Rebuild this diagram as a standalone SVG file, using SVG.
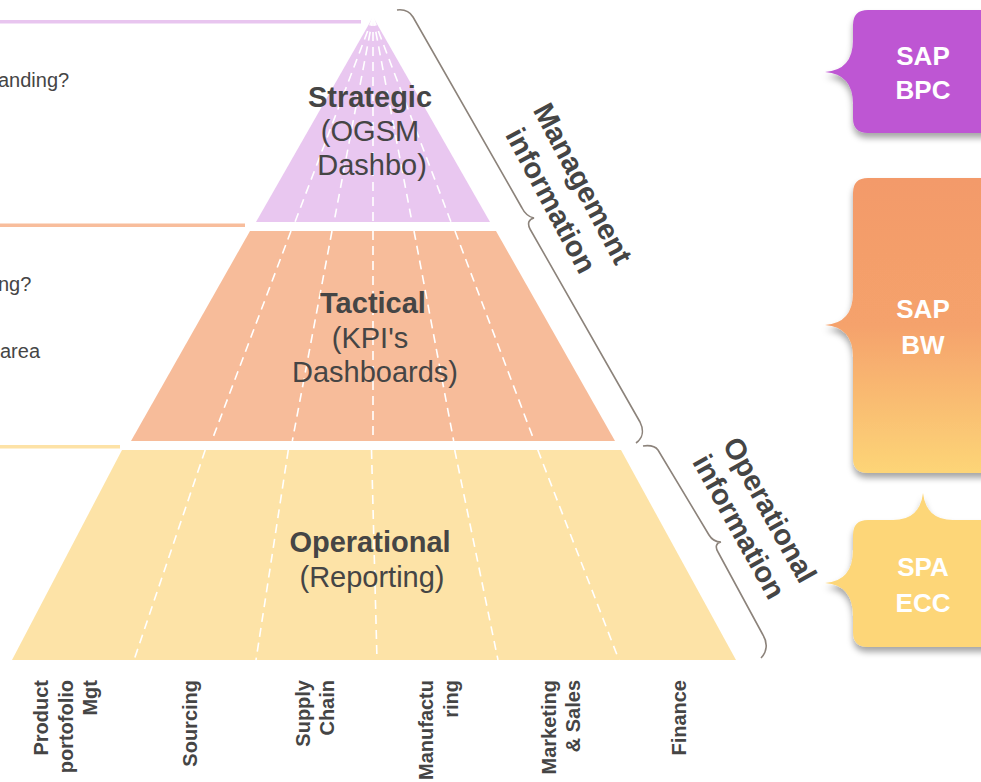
<svg xmlns="http://www.w3.org/2000/svg" width="981" height="782" viewBox="0 0 981 782">
<defs>
<style>
.lbl{font-family:"Liberation Sans",Arial,sans-serif;fill:#454545}
.big{font-size:29px;text-anchor:middle}
.b{font-weight:bold}
.side{font-size:20px}
.col{font-size:20px;font-weight:bold;text-anchor:end}
.dash{stroke:#ffffff;stroke-width:1.6;stroke-dasharray:9 6;fill:none}
.brace{fill:none;stroke:#8c837b;stroke-width:1.6}
.call{font-family:"Liberation Sans",Arial,sans-serif;font-size:26px;font-weight:bold;fill:#ffffff;text-anchor:middle}
</style>
<filter id="sh" x="-20%" y="-20%" width="140%" height="150%">
<feDropShadow dx="0" dy="5" stdDeviation="3" flood-color="#000" flood-opacity="0.35"/>
</filter>
<linearGradient id="gBW" x1="0" y1="0" x2="0" y2="1">
<stop offset="0" stop-color="#F39A6A"/>
<stop offset="0.5" stop-color="#F5A26C"/>
<stop offset="1" stop-color="#FDD577"/>
</linearGradient>
</defs>

<g id="left-lines">
<rect x="0" y="20" width="361" height="3.5" fill="#E8C5EF"/>
<rect x="0" y="223.5" width="245" height="3.5" fill="#F8BD9C"/>
<rect x="0" y="445" width="120" height="3.5" fill="#FDE2A6"/>
</g>

<g id="left-text">
<text class="lbl side" x="-2" y="87">anding?</text>
<text class="lbl side" x="-2" y="291">ng?</text>
<text class="lbl side" x="0" y="358">area</text>
</g>

<g id="strategic">
<polygon points="373,17 490,222 256,222" fill="#E9C7F0"/>
<line class="dash" x1="373" y1="17" x2="295" y2="222"/>
<line class="dash" x1="373" y1="17" x2="334" y2="222"/>
<line class="dash" x1="373" y1="17" x2="373" y2="222"/>
<line class="dash" x1="373" y1="17" x2="412" y2="222"/>
<line class="dash" x1="373" y1="17" x2="451" y2="222"/>
<text class="lbl big b" x="370" y="107">Strategic</text>
<text class="lbl big" x="370" y="141">(OGSM</text>
<text class="lbl big" x="372" y="175">Dashbo)</text>
</g>

<g id="tactical">
<polygon points="250,231 496,231 615,441 131,441" fill="#F7BC9A"/>
<line class="dash" x1="291" y1="231" x2="211.7" y2="441"/>
<line class="dash" x1="332" y1="231" x2="292.3" y2="441"/>
<line class="dash" x1="373" y1="231" x2="373" y2="441"/>
<line class="dash" x1="414" y1="231" x2="453.7" y2="441"/>
<line class="dash" x1="455" y1="231" x2="534.3" y2="441"/>
<text class="lbl big b" x="373" y="313">Tactical</text>
<text class="lbl big" x="370" y="348">(KPI's</text>
<text class="lbl big" x="375" y="382">Dashboards)</text>
</g>

<g id="operational">
<polygon points="122,450 621,450 736,660 12,660" fill="#FDE3A7"/>
<line class="dash" x1="205.2" y1="450" x2="134" y2="660"/>
<line class="dash" x1="288.3" y1="450" x2="256" y2="660"/>
<line class="dash" x1="371.5" y1="450" x2="377" y2="660"/>
<line class="dash" x1="454.7" y1="450" x2="498" y2="660"/>
<line class="dash" x1="537.8" y1="450" x2="619" y2="660"/>
<text class="lbl big b" x="370" y="552">Operational</text>
<text class="lbl big" x="372" y="587">(Reporting)</text>
</g>

<g id="columns">
<text class="lbl col" transform="translate(48,680) rotate(-90)">Product</text>
<text class="lbl col" transform="translate(73,680) rotate(-90)">portofolio</text>
<text class="lbl col" transform="translate(97,680) rotate(-90)">Mgt</text>
<text class="lbl col" transform="translate(197,680) rotate(-90)">Sourcing</text>
<text class="lbl col" transform="translate(310,680) rotate(-90)">Supply</text>
<text class="lbl col" transform="translate(334,680) rotate(-90)">Chain</text>
<text class="lbl col" transform="translate(433,680) rotate(-90)">Manufactu</text>
<text class="lbl col" transform="translate(458,680) rotate(-90)">ring</text>
<text class="lbl col" transform="translate(556,680) rotate(-90)">Marketing</text>
<text class="lbl col" transform="translate(580,680) rotate(-90)">&amp; Sales</text>
<text class="lbl col" transform="translate(686,680) rotate(-90)">Finance</text>
</g>

<g id="connectors">
<path class="brace" d="M397,10 C405,9 410,12 413,17 L522,208 C525,214 529,217 534,218 C529,219 527,223 530,229 L640,422 C644,430 643,438 636,443"/>
<path class="brace" d="M643,446 C650,445 655,446 658,450 L709,535 C712,540 716,542 721,542 C716,543 715,547 718,552 L763,635 C768,643 767,652 761,658"/>
</g>

<g id="management-info">
<g transform="translate(567,192) rotate(62)">
<text class="lbl big b" x="0" y="-8">Management</text>
<text class="lbl big b" x="0" y="28">information</text>
</g>
</g>

<g id="operational-info">
<g transform="translate(755,518) rotate(61)">
<text class="lbl big b" x="0" y="-7">Operational</text>
<text class="lbl big b" x="0" y="28">information</text>
</g>
</g>

<g id="sap-bpc">
<path filter="url(#sh)" fill="#BE56D3" d="M868,10 H1000 V133 H868 Q853,133 853,118 V104 Q853,74 825,72 Q853,70 853,40 V25 Q853,10 868,10 Z"/>
<text class="call" x="923" y="65">SAP</text>
<text class="call" x="923" y="99">BPC</text>
</g>

<g id="sap-bw">
<path filter="url(#sh)" fill="url(#gBW)" d="M868,178 H1000 V473 H868 Q853,473 853,458 V357 Q853,327 825,325 Q853,323 853,293 V193 Q853,178 868,178 Z"/>
<text class="call" x="923" y="318">SAP</text>
<text class="call" x="923" y="354">BW</text>
</g>

<g id="spa-ecc">
<path filter="url(#sh)" fill="#FDD678" d="M893,520 Q920,520 923,493 Q926,520 953,520 H1000 V647 H868 Q853,647 853,632 V616 Q853,585 825,583 Q853,581 853,550 V535 Q853,520 868,520 Z"/>
<text class="call" x="923" y="576">SPA</text>
<text class="call" x="923" y="612">ECC</text>
</g>
</svg>
